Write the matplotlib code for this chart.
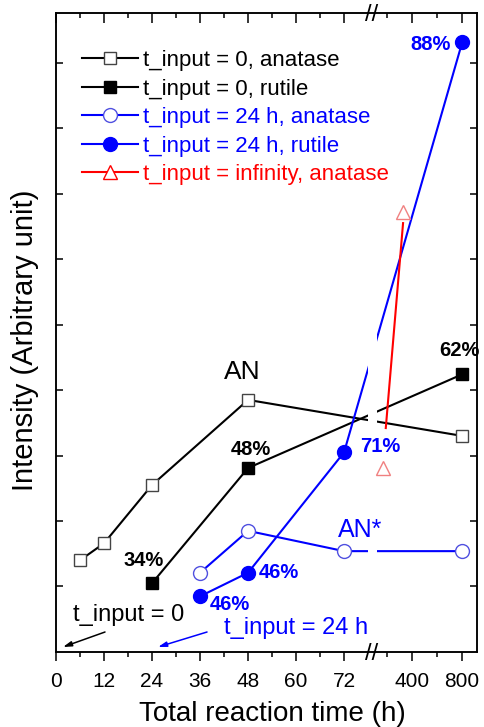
import numpy as np
import matplotlib.pyplot as plt
from matplotlib.lines import Line2D

plt.rcParams['font.family'] = ['Liberation Sans', 'DejaVu Sans']

# values: total reaction time (h) vs intensity (arb. unit)
t_an0 = [6, 12, 24, 48, 800]
i_an0 = [1.40, 1.66, 2.55, 3.85, 3.30]
t_ru0 = [24, 48, 800]
i_ru0 = [1.05, 2.81, 4.24]
t_an24 = [36, 48, 72, 800]
i_an24 = [1.21, 1.85, 1.54, 1.54]
t_ru24 = [36, 48, 72, 800]
i_ru24 = [0.85, 1.21, 3.05, 9.31]
pct_ru0 = ['34%', '48%', '62%']
pct_ru24 = ['46%', '46%', '71%', '88%']

# t_input = infinity: two faded triangles and a red line
t_aninf = [165, 328]
i_aninf = [2.81, 6.72]
t_infline = [190, 328]
i_infline = [3.42, 6.55]

major_ticks = [0, 12, 24, 36, 48, 60, 72, 400, 800]
minor_ticks = [6, 18, 30, 42, 54, 66, 200, 600]

# broken x axis: linear 0-78 h, a short gap, then a compressed part for 400-800 h
brk_t = [-1000, 78, 120.5, 2000]
brk_u = [-1000, 78, 80.25, 139.08]


def fwd(t):
    return np.interp(t, brk_t, brk_u)


def inv(u):
    return np.interp(u, brk_u, brk_t)


blue = '#0000ff'
fig = plt.figure(figsize=(4.84, 7.27), dpi=100)
ax = fig.add_axes([0.1157, 0.1032, 0.870, 0.879])
ax.set_xscale('function', functions=(fwd, inv))
ax.set_xlim(0, 919)
ax.set_ylim(0, 9.76)

lw = 1.5
l1, = ax.plot(t_an0, i_an0, '-s', color='black', lw=lw, ms=9, mfc='white',
              mec='#444444', mew=1.0, label='t_input = 0, anatase')
l2, = ax.plot(t_ru0, i_ru0, '-s', color='black', lw=lw, ms=9,
              label='t_input = 0, rutile')
l3, = ax.plot(t_an24, i_an24, '-o', color=blue, lw=lw, ms=10, mfc='white',
              mec='#5050e0', mew=1.0, label='t_input = 24 h, anatase')
l4, = ax.plot(t_ru24, i_ru24, '-o', color=blue, lw=lw, ms=10,
              label='t_input = 24 h, rutile')

# white band where the axis is broken
ax.axvspan(78, 120.5, color='white', lw=0, zorder=2.4)

ax.plot(t_infline, i_infline, '-', color='red', lw=lw, zorder=3)
ax.plot(t_aninf, i_aninf, '^', ls='none', ms=10, mfc='white', mec='#f08080',
        mew=1.0, zorder=3)
l5 = Line2D([], [], color='red', lw=lw, marker='^', ms=10, mfc='white',
            mec='red', mew=1.0, label='t_input = infinity, anatase')

# percentage labels
pct_kw = dict(textcoords='offset points', ha='center', va='center',
              fontsize=14.5, fontweight='bold', zorder=4)
off_ru0 = [(-5.8, 16.6), (2.2, 13), (-2.2, 17.3)]
for t, v, s, o in zip(t_ru0, i_ru0, pct_ru0, off_ru0):
    ax.annotate(s, (t, v), xytext=o, color='black', **pct_kw)
off_ru24 = [(21.6, -5.8), (22.3, 0), (26, 4.3), (-23, -1.4)]
for t, v, s, o in zip(t_ru24, i_ru24, pct_ru24, off_ru24):
    ax.annotate(s, (t, v), xytext=o, color=blue, **pct_kw)

ax.text(46.5, 4.28, 'AN', fontsize=19, ha='center', va='center')
ax.text(76, 1.86, 'AN*', fontsize=18, ha='center', va='center', color=blue)

ax.text(18.25, 0.565, 't_input = 0', fontsize=17, ha='center', va='center')
ax.annotate('', xy=(1.75, 0.076), xytext=(12.25, 0.305),
            arrowprops=dict(arrowstyle='-|>,head_length=0.5,head_width=0.15',
                            color='black', lw=1.1, shrinkA=0, shrinkB=0))
ax.text(60, 0.366, 't_input = 24 h', fontsize=17, ha='center', va='center',
        color=blue)
ax.annotate('', xy=(25.5, 0.076), xytext=(37.75, 0.305),
            arrowprops=dict(arrowstyle='-|>,head_length=0.5,head_width=0.15',
                            color=blue, lw=1.1, shrinkA=0, shrinkB=0))

leg = ax.legend(handles=[l1, l2, l3, l4, l5], loc='upper left',
                bbox_to_anchor=(0.062, 0.942), frameon=False, fontsize=16,
                labelcolor='linecolor', handlelength=2.5, handletextpad=0.22,
                labelspacing=0.34, borderpad=0, borderaxespad=0)

# ticks: bottom outward, the other sides inward
ax.set_xticks(major_ticks)
ax.set_xticklabels([str(t) for t in major_ticks])
ax.set_xticks(minor_ticks, minor=True)
ax.tick_params(axis='x', which='major', direction='out', length=6.5, width=1.1,
               labelsize=15, pad=8)
ax.tick_params(axis='x', which='minor', direction='out', length=3.5, width=1.1)
ax.set_yticks(np.arange(1, 10))
ax.tick_params(axis='y', which='major', direction='in', length=5, width=1.1,
               left=True, right=True, labelleft=False)

ax_top = ax.twiny()
ax_top.set_xscale('function', functions=(fwd, inv))
ax_top.set_xlim(ax.get_xlim())
ax_top.set_xticks(major_ticks)
ax_top.set_xticks(minor_ticks, minor=True)
ax_top.tick_params(axis='x', which='major', direction='in', length=7, width=1.1,
                   labeltop=False)
ax_top.tick_params(axis='x', which='minor', direction='in', length=3.5, width=1.1)

for a in (ax, ax_top):
    for sp in a.spines.values():
        sp.set_linewidth(1.1)

# break marks on the bottom and top axes
for yy in (0, 1):
    ax.text(97, yy, '//', transform=ax.get_xaxis_transform(), ha='center',
            va='center_baseline', fontsize=17, zorder=5)

ax.set_xlabel('Total reaction time (h)', fontsize=20)
ax.xaxis.set_label_coords(0.515, -0.076)
ax.set_ylabel('Intensity (Arbitrary unit)', fontsize=21)
ax.yaxis.set_label_coords(-0.04, 0.487)

fig.savefig('out.png', dpi=100)
